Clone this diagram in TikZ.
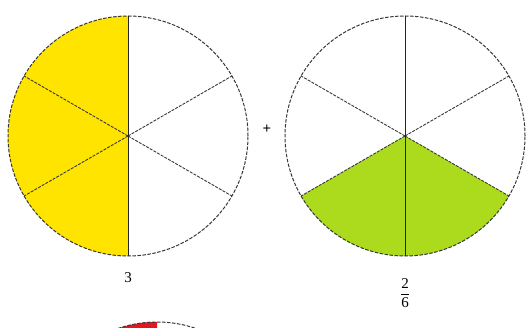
\documentclass[tikz,border=0pt]{standalone}
\usepackage{fontspec}
\setmainfont{Liberation Serif}
\definecolor{pieyellow}{RGB}{255,228,0}
\definecolor{piegreen}{RGB}{172,218,28}
\definecolor{piered}{RGB}{228,22,30}
\definecolor{pieline}{RGB}{55,55,55}
\begin{document}
\begin{tikzpicture}[x=1pt,y=1pt,
  rim/.style={draw=pieline,line width=1pt,dash pattern=on 3.5pt off 1.5pt},
  spoke/.style={draw=pieline,line width=0.9pt,dash pattern=on 3pt off 1.2pt},
  axis/.style={draw=black!85,line width=1pt},
  lbl/.style={font=\fontsize{15}{17}\selectfont,inner sep=0pt}]
\useasboundingbox (0,0) rectangle (526,-328);
\def\R{120}
\coordinate (c1) at (128,-136);
\coordinate (c2) at (405,-136);
\coordinate (c3) at (157,-442);
% left circle: 3/6 yellow
\fill[pieyellow] (c1) -- ++(90:\R) arc[start angle=90,end angle=270,radius=\R] -- cycle;
\foreach \a in {30,150,210,330} \draw[spoke] (c1) -- ++(\a:\R);
\draw[rim] (c1) circle[radius=\R];
\draw[axis] (c1) ++(0,\R) -- ++(0,-2*\R);
% right circle: 2/6 green
\fill[piegreen] (c2) -- ++(210:\R) arc[start angle=210,end angle=330,radius=\R] -- cycle;
\foreach \a in {30,150,210,330} \draw[spoke] (c2) -- ++(\a:\R);
\draw[rim] (c2) circle[radius=\R];
\draw[axis] (c2) ++(0,\R) -- ++(0,-2*\R);
% bottom partial circle
\begin{scope}
\clip (0,0) rectangle (526,-328);
\fill[piered] (c3) -- ++(90:\R) arc[start angle=90,end angle=210,radius=\R] -- cycle;
\draw[rim] (c3) circle[radius=\R];
\end{scope}
% labels
\node[lbl] (l1) at (128,-278) {3};
\node[lbl] (plus) at (267,-129) {\textbf{+}};
\node[lbl] (l2) at (405,-293) {$\displaystyle\frac{\mathrm{2}}{\mathrm{6}}$};
\end{tikzpicture}
\end{document}
